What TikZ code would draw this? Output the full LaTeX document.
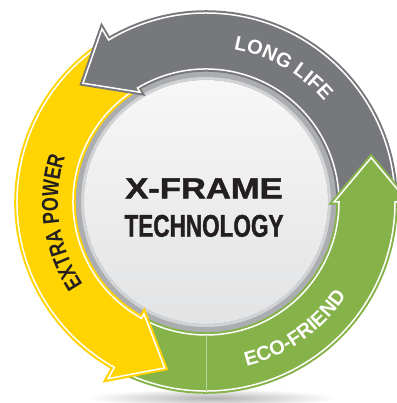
\documentclass[tikz,border=0pt]{standalone}
\usepackage{fontspec}
\setmainfont{Liberation Sans}
\newfontfamily\narrowfont{Liberation Sans}[FakeStretch=0.78]
\newfontfamily\techfont{Liberation Sans}[FakeStretch=0.72, FakeBold=1.2]
\newfontfamily\widefont{Liberation Sans}[FakeStretch=1.2, FakeBold=1.6]
\usetikzlibrary{decorations.text}
\definecolor{lifegray}{HTML}{77787B}
\definecolor{poweryellow}{HTML}{FFD400}
\definecolor{ecogreen}{HTML}{86B24A}
\definecolor{inkblack}{HTML}{231F20}
\definecolor{diskrim}{HTML}{ABADB0}
\definecolor{diskhigh}{HTML}{F7F7F7}
\definecolor{disklow}{HTML}{E2E3E4}
\tikzset{every picture/.style = {x=1pt, y=1pt}}
\tikzset{band/.style = {fill=#1, draw=#1, double=white, double distance=1.5pt, line width=2pt}}
\tikzset{ringtext/.style = {decorate, decoration={text along path, text align=center, text color=#1}}}
% tail angle, head base angle, tip angle
\newcommand\ringband[3]{(#1:189) arc[start angle=#1, end angle=#2, radius=189]
  -- (#2:202) -- (#3:171) -- (#2:128) -- (#2:133)
  arc[start angle=#2, end angle=#1, radius=133]}

\begin{document}
\begin{tikzpicture}
  \useasboundingbox (0, 0) rectangle (396, 403);
  \shade[inner color=gray!60, outer color=white] (212, 5) ellipse[x radius=125, y radius=9];
  \begin{scope}[shift={(206, 201)}]
    % disk
    \fill[diskrim] (0, 0) circle[radius=131];
    \shade[top color=diskhigh, bottom color=disklow] (0, 0) circle[radius=122];
    \draw[diskrim!55!white, line width=3pt] (0, 0) circle[radius=123.5];
    % arrows
    \path[band=poweryellow] \ringband{119}{241}{256};
    \path[band=lifegray] \ringband{-1}{121}{136};
    \path[band=ecogreen] \ringband{239}{360}{375};
    \draw[ecogreen!55!white, line width=0.6pt] (270:131) -- (270:191);
    \path[band=poweryellow] \ringband{225}{241}{256};
    % labels
    \path[ringtext=white, decoration={text={|\bfseries\fontsize{20}{20}\selectfont|LONG LIFE}}]
      (100:155) arc[start angle=100, end angle=20, radius=155];
    \path[ringtext=inkblack, decoration={text={|\narrowfont\bfseries\fontsize{23}{23}\selectfont|EXTRA POWER}}]
      (238:148) arc[start angle=238, end angle=138, radius=148];
    \path[ringtext=white, decoration={text={|\bfseries\fontsize{20}{20}\selectfont|ECO-FRIEND}}]
      (-95:169) arc[start angle=-95, end angle=-15, radius=169];
    \node[anchor=base, text=inkblack] (xframe) at (-2, 3.7)
      {\widefont\bfseries\fontsize{28.8}{30}\selectfont X-FRAME};
    \node[anchor=base, text=inkblack] (technology) at (-2, -34.7)
      {\techfont\bfseries\fontsize{31.3}{32}\selectfont TECHNOLOGY};
  \end{scope}
\end{tikzpicture}
\end{document}
